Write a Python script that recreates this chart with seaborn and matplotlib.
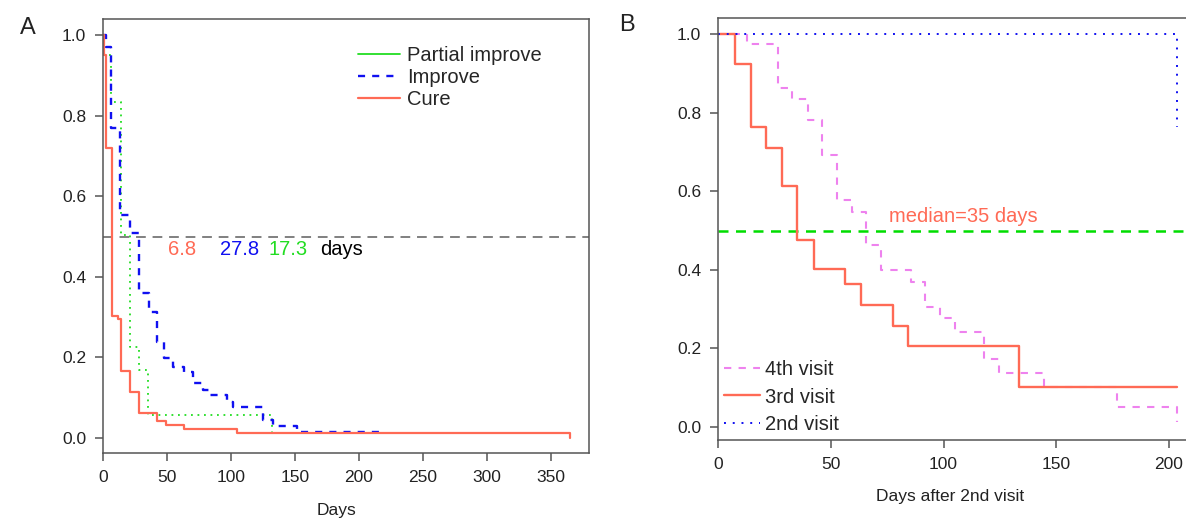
import numpy as np
import pandas as pd
import matplotlib
matplotlib.use("Agg")
import matplotlib.pyplot as plt
from matplotlib.lines import Line2D
import seaborn as sns

# ---------------- data ----------------
# Panel A (Kaplan-Meier style step curves)
cure_t = [0, 1, 2, 6.8, 12, 14, 21, 28, 42, 49, 63, 105, 365]
cure_s = [1.0, 0.95, 0.72, 0.303, 0.295, 0.167, 0.115, 0.063, 0.042, 0.032, 0.0215, 0.0116, 0.0]

improve_t = [0, 2, 6, 13, 21, 28, 36, 42, 48, 55, 63, 70, 78, 84, 97, 102, 125, 133, 152, 216]
improve_s = [1.0, 0.97, 0.77, 0.553, 0.51, 0.36, 0.313, 0.239, 0.198, 0.177, 0.165, 0.136,
             0.119, 0.107, 0.090, 0.078, 0.046, 0.030, 0.016, 0.0]

partial_t = [0, 1, 6, 14, 21, 28, 35, 132]
partial_s = [1.0, 0.95, 0.835, 0.504, 0.227, 0.169, 0.057, 0.0]

median_labels_A = ["6.8", "27.8", "17.3", "days"]
median_label_x_A = [61.7, 107, 144.5, 186.7]

# Panel B
v3_t = [0, 7.5, 14.6, 21.5, 28.3, 35.2, 42.6, 56.5, 63.4, 77.4, 84.4, 133.3, 203.4]
v3_s = [1.0, 0.923, 0.764, 0.711, 0.614, 0.476, 0.402, 0.363, 0.31, 0.258, 0.206, 0.1025, 0.1025]

v4_t = [0, 13, 26.7, 33, 39.7, 46.3, 52.9, 59.6, 65.8, 72.3, 85.4, 92, 98.4, 105, 118,
        124.8, 144.4, 176.9, 203.4]
v4_s = [1.0, 0.975, 0.863, 0.835, 0.781, 0.692, 0.578, 0.548, 0.463, 0.40, 0.37, 0.306,
        0.277, 0.243, 0.172, 0.137, 0.1025, 0.0517, 0.0135]

v2_t = [0, 203.4]
v2_s = [1.0, 0.764]

xticks_A = [0, 50, 100, 150, 200, 250, 300, 350]
xticks_B = [0, 50, 100, 150, 200]
yticks = [0.0, 0.2, 0.4, 0.6, 0.8, 1.0]

# ---------------- style ----------------
sns.set_style("ticks")
plt.rcParams["font.family"] = ["Liberation Sans", "DejaVu Sans"]

RED = "#FF6A55"
BLUE = "#1010F0"
GREEN = "#22DD22"
VIOLET = "#EE82EE"
SPINE = "#555555"

W, H = 1186, 519
fig = plt.figure(figsize=(W / 100, H / 100), dpi=100)

def px_axes(l, r, t, b):
    return fig.add_axes([l / W, (H - b) / H, (r - l) / W, (b - t) / H])

axA = px_axes(103, 589, 19, 453)
axB = px_axes(718, 1188, 18, 440)

def style_axes(ax):
    for sp in ax.spines.values():
        sp.set_visible(True)
        sp.set_color(SPINE)
        sp.set_linewidth(1.1)
    ax.tick_params(axis="both", direction="out", length=6, width=1.1, color=SPINE,
                   labelsize=12.5, pad=6, labelcolor="#222222")
    ax.set_xlabel("")
    ax.set_ylabel("")

def step(ax, t, s, color, lw, ls, label=None):
    df = pd.DataFrame({"t": t, "s": s})
    sns.lineplot(data=df, x="t", y="s", ax=ax, color=color, linewidth=lw,
                 linestyle=ls, drawstyle="steps-post", estimator=None, sort=False,
                 label=label, legend=False)

# ---------------- panel A ----------------
axA.axhline(0.5, color="#808080", lw=1.4, ls=(0, (5, 3.5)), zorder=1)
step(axA, partial_t, partial_s, GREEN, 1.3, (0, (1, 2.6)))
step(axA, improve_t, improve_s, BLUE, 1.7, (0, (3, 3)))
step(axA, cure_t, cure_s, RED, 1.6, "-")

axA.set_xlim(0, 380)
axA.set_ylim(-0.037, 1.040)
axA.set_xticks(xticks_A)
axA.set_yticks(yticks)
axA.set_yticklabels([f"{v:.1f}" for v in yticks])
style_axes(axA)

for txt, xv, col in zip(median_labels_A, median_label_x_A, [RED, BLUE, GREEN, "black"]):
    axA.text(xv, 0.468, txt, color=col, fontsize=14.5, ha="center", va="center")

handlesA = [Line2D([], [], color=GREEN, lw=1.3, ls="-"),
            Line2D([], [], color=BLUE, lw=1.7, ls=(0, (3, 3))),
            Line2D([], [], color=RED, lw=1.6, ls="-")]
axA.legend(handlesA, ["Partial improve", "Improve", "Cure"], loc="upper left",
           bbox_to_anchor=((358 - 103) / 486, 1 - (46 - 19) / 434), frameon=False,
           fontsize=14.5, handlelength=2.1, handletextpad=0.33, labelspacing=0.16,
           borderpad=0, borderaxespad=0)

# ---------------- panel B ----------------
axB.axhline(0.5, color="#00DD00", lw=1.8, ls=(0, (4, 3)), zorder=1)
step(axB, v4_t, v4_s, VIOLET, 1.5, (0, (3.5, 3.5)))
step(axB, v3_t, v3_s, RED, 1.7, "-")
step(axB, v2_t, v2_s, BLUE, 1.4, (0, (1, 3.5)))

axB.set_xlim(0, 208.4)
axB.set_ylim(-0.033, 1.041)
axB.set_xticks(xticks_B)
axB.set_yticks(yticks)
axB.set_yticklabels([f"{v:.1f}" for v in yticks])
style_axes(axB)

axB.text(108.8, 0.537, "median=35 days", color=RED, fontsize=14.5, ha="center", va="center")

handlesB = [Line2D([], [], color=VIOLET, lw=1.5, ls=(0, (3.5, 3.5))),
            Line2D([], [], color=RED, lw=1.7, ls="-"),
            Line2D([], [], color=BLUE, lw=1.4, ls=(0, (1, 3.5)))]
axB.legend(handlesB, ["4th visit", "3rd visit", "2nd visit"], loc="lower left",
           bbox_to_anchor=((724 - 718) / 470, (440 - 434) / 422), frameon=False,
           fontsize=14.5, handlelength=1.8, handletextpad=0.25, labelspacing=0.42,
           borderpad=0, borderaxespad=0)

# ---------------- labels ----------------
fig.text(20 / W, 1 - 28 / H, "A", fontsize=17, ha="left", va="center", color="#222222")
fig.text(619 / W, 1 - 25 / H, "B", fontsize=17, ha="left", va="center", color="#222222")
fig.text(336 / W, 1 - 510 / H, "Days", fontsize=12.5, ha="center", va="center", color="#222222")
fig.text(950 / W, 1 - 497 / H, "Days after 2nd visit", fontsize=12.5, ha="center",
         va="center", color="#222222")

fig.savefig("out.png", dpi=100)
